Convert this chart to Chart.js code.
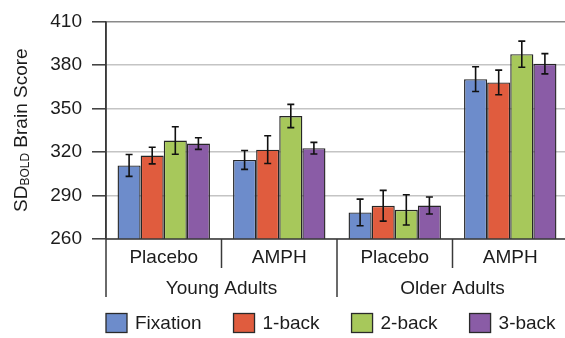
<!DOCTYPE html>
<html>
<head>
<meta charset="utf-8">
<script src="https://cdn.jsdelivr.net/npm/chart.js@4.4.1/dist/chart.umd.min.js"></script>
<style>
  html, body { margin: 0; padding: 0; background: #fff; overflow: hidden; }
  #wrap { width: 570px; height: 338px; }
</style>
</head>
<body>
<div id="wrap"><canvas id="chart" width="570" height="338"></canvas></div>
<script>
// conditions (bottom row) and age groups (second row)
const conditions = ['Placebo', 'AMPH', 'Placebo', 'AMPH'];
const groups = ['Young Adults', 'Older Adults'];
const yTicks = [260, 290, 320, 350, 380, 410];

// SD_BOLD brain score per task, and error bar half-widths
const fixation = [310.7, 314.5, 278.3, 370.2];
const fixationErr = [7.5, 6.5, 9.2, 8.5];
const oneBack = [317.5, 321.6, 282.9, 367.9];
const oneBackErr = [5.7, 9.6, 10.6, 8.5];
const twoBack = [327.9, 344.8, 280.1, 387.4];
const twoBackErr = [9.5, 8.0, 10.4, 9.0];
const threeBack = [325.8, 322.6, 283.1, 380.8];
const threeBackErr = [4.0, 4.0, 5.9, 7.0];

const seriesNames = ['Fixation', '1-back', '2-back', '3-back'];
const seriesColors = ['#6d8ccb', '#e05c3e', '#a7c85b', '#8a5ca6'];

const FONT = '"Liberation Sans", Arial, sans-serif';
const TEXT = '#1c1c1c';
const AXIS = '#3a3a3a';

const series = [fixation, oneBack, twoBack, threeBack];
const errors = [fixationErr, oneBackErr, twoBackErr, threeBackErr];

// draws error bars, the two-row x labels, the y title and the legend
const extrasPlugin = {
    id: 'extras',
    afterDatasetsDraw(chart) {
        const ctx = chart.ctx;
        const y = chart.scales.y;
        ctx.save();
        ctx.strokeStyle = '#111';
        ctx.lineWidth = 1.6;
        chart.data.datasets.forEach((ds, di) => {
            const meta = chart.getDatasetMeta(di);
            meta.data.forEach((bar, i) => {
                const v = ds.data[i];
                const e = errors[di][i];
                const yt = y.getPixelForValue(v + e);
                const yb = y.getPixelForValue(v - e);
                ctx.beginPath();
                ctx.moveTo(bar.x, yt); ctx.lineTo(bar.x, yb);
                ctx.moveTo(bar.x - 3.5, yt); ctx.lineTo(bar.x + 3.5, yt);
                ctx.moveTo(bar.x - 3.5, yb); ctx.lineTo(bar.x + 3.5, yb);
                ctx.stroke();
            });
        });
        ctx.restore();
    },
    afterDraw(chart) {
        const ctx = chart.ctx;
        const x = chart.scales.x;
        const area = chart.chartArea;
        const base = area.bottom;
        ctx.save();

        // axis lines
        ctx.strokeStyle = AXIS;
        ctx.lineWidth = 1.5;
        ctx.beginPath();
        ctx.moveTo(area.left, area.top); ctx.lineTo(area.left, base + 58);
        ctx.moveTo(area.left, base); ctx.lineTo(area.right, base);
        ctx.stroke();

        // category separators
        const step = x.getPixelForValue(1) - x.getPixelForValue(0);
        for (let i = 1; i < conditions.length; i++) {
            const bx = x.getPixelForValue(i) - step / 2;
            const long = i % 2 === 0;
            ctx.beginPath();
            ctx.moveTo(bx, base);
            ctx.lineTo(bx, base + (long ? 58 : 29));
            ctx.stroke();
        }

        ctx.fillStyle = TEXT;
        ctx.font = '19px ' + FONT;
        ctx.textAlign = 'center';
        ctx.textBaseline = 'middle';
        conditions.forEach((c, i) => {
            ctx.fillText(c, x.getPixelForValue(i), base + 19);
        });
        groups.forEach((g, gi) => {
            const cx = (x.getPixelForValue(gi * 2) + x.getPixelForValue(gi * 2 + 1)) / 2;
            ctx.fillText(g, cx, base + 50);
        });

        // y title with subscript
        ctx.save();
        ctx.translate(22, (area.top + area.bottom) / 2);
        ctx.rotate(-Math.PI / 2);
        ctx.textAlign = 'left';
        ctx.textBaseline = 'middle';
        const big = '19px ' + FONT, small = '12px ' + FONT;
        ctx.font = big; const w1 = ctx.measureText('SD').width;
        ctx.font = small; const w2 = ctx.measureText('BOLD').width;
        ctx.font = big; const w3 = ctx.measureText(' Brain Score').width;
        let tx = -(w1 + w2 + w3) / 2;
        ctx.font = big; ctx.fillText('SD', tx, 0); tx += w1;
        ctx.font = small; ctx.fillText('BOLD', tx, 4); tx += w2;
        ctx.font = big; ctx.fillText(' Brain Score', tx, 0);
        ctx.restore();

        // legend
        ctx.font = '19px ' + FONT;
        ctx.textAlign = 'left';
        ctx.textBaseline = 'middle';
        let lx = area.left;
        const ly = 323;
        seriesNames.forEach((name, i) => {
            ctx.fillStyle = seriesColors[i];
            ctx.fillRect(lx, ly - 9.5, 21, 19);
            ctx.strokeStyle = '#2a2a2a';
            ctx.lineWidth = 1.3;
            ctx.strokeRect(lx, ly - 9.5, 21, 19);
            ctx.fillStyle = TEXT;
            ctx.fillText(name, lx + 29, ly + 1);
            lx += 29 + ctx.measureText(name).width + 32;
        });
        ctx.restore();
    }
};

new Chart(document.getElementById('chart'), {
    type: 'bar',
    data: {
        labels: conditions,
        datasets: series.map((d, i) => ({
            label: seriesNames[i],
            data: d,
            backgroundColor: seriesColors[i],
            borderColor: '#262626',
            borderWidth: 1.4,
            categoryPercentage: 0.8,
            barPercentage: 1.0
        }))
    },
    options: {
        responsive: false,
        animation: false,
        devicePixelRatio: 1,
        layout: { padding: { left: 0, top: 18, right: 2, bottom: 99 } },
        plugins: {
            legend: { display: false },
            tooltip: { enabled: false }
        },
        scales: {
            x: { display: false },
            y: {
                min: 260,
                max: 410,
                afterFit(scale) { scale.width = 106; },
                afterBuildTicks(scale) { scale.ticks = yTicks.map(v => ({ value: v })); },
                border: { display: true, color: AXIS, width: 1.5 },
                grid: {
                    color: ctx => ctx.tick && ctx.tick.value === 410 ? '#8a8a8a' : '#c4c4c4',
                    lineWidth: 1.6,
                    tickColor: AXIS,
                    tickWidth: 1.5,
                    tickLength: 14
                },
                ticks: {
                    padding: 10,
                    color: TEXT,
                    font: { family: FONT, size: 19 }
                }
            }
        }
    },
    plugins: [extrasPlugin]
});
</script>
</body>
</html>
